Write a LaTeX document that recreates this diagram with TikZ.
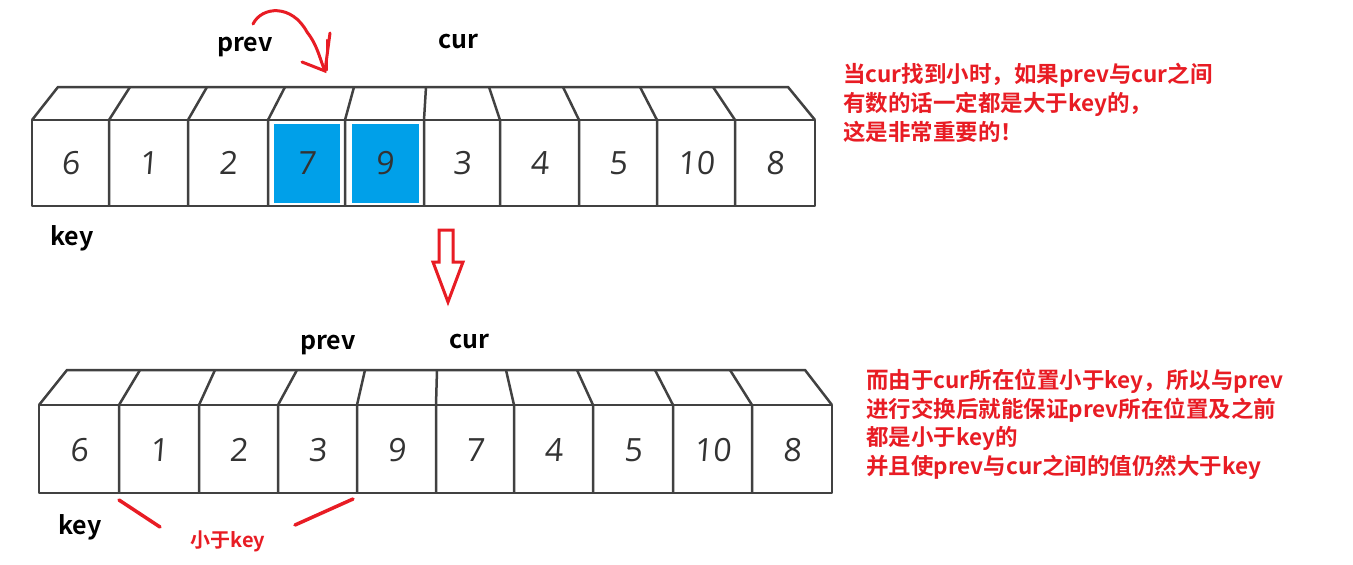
\documentclass[tikz,border=0pt]{standalone}
\usepackage{fontspec}
\newfontfamily\cjk{Noto Sans CJK SC}
\newfontfamily\cjkb{Noto Sans CJK SC Bold}
\newfontfamily\digf{Open Sans}[FakeSlant=0.08]
\definecolor{ared}{RGB}{232,28,36}
\definecolor{ablue}{RGB}{0,160,233}
\definecolor{edge}{RGB}{65,65,65}
\begin{document}
\begin{tikzpicture}[x=1pt,y=-1pt,
  box/.style={draw=edge,line width=2.5pt,line join=round},
  digit/.style={font=\digf\fontsize{32}{32}\selectfont,text=black!80,inner sep=0pt},
  lbl/.style={font=\cjkb\fontsize{25}{25}\selectfont,inner sep=0pt},
  note/.style={font=\cjkb\fontsize{22.5}{22.5}\selectfont,text=ared,anchor=west,inner sep=0pt},
  redline/.style={draw=ared,line width=3.5pt,line cap=round}]
\useasboundingbox (0,0) rectangle (1353,565);
\fill[white] (0,0) rectangle (1353,565);

% ---------- top array ----------
\fill[ablue] (274,124) rectangle (340,203);
\fill[ablue] (352,124) rectangle (419,203);
\draw[box] (32,120) rectangle (815,206);
\draw[box] (32,120) -- (58,87) -- (788,87) -- (815,120);
\foreach \f/\b in {109/130,188/207,268/285,345/354,424/426,500/489,579/563,657/640,735/713}
  \draw[box] (\f,206) -- (\f,120) -- (\b,87);
\foreach \x/\v [count=\i] in {70.5/6,148.5/1,228/2,306.5/7,384.5/9,462/3,539.5/4,618/5,696/10,775/8}
  \node[digit] (t\i) at (\x,163) {\v};

\node[lbl] (tprev) at (245,47) {prev};
\node[lbl] (tcur) at (458,41) {cur};
\node[lbl] (tkey) at (72,238) {key};

% red scribble arrow
\coordinate (ca) at (253,24);
\coordinate (cb) at (307,32);
\coordinate (cc) at (325,71);
\draw[redline,line width=3pt] (ca) .. controls (262,6) and (292,4) .. (cb) .. controls (318,46) and (320,60) .. (cc);
\draw[redline,line width=3pt] (302,62) -- (cc) -- (330,33);
\draw[redline,line width=2.5pt] (327,70) -- (327,40);

% hollow down arrow
\draw[draw=ared,line width=3pt,line join=miter]
  (439,230) -- (453,230) -- (453,262) -- (463,262) -- (448,302) -- (433,262) -- (439,262) -- cycle;

% top note
\node[note] (n1) at (843,75) {当cur找到小时，如果prev与cur之间};
\node[note] (n2) at (843,104) {有数的话一定都是大于key的，};
\node[note] (n3) at (843,132) {这是非常重要的！};

% ---------- bottom array ----------
\draw[box] (39,405) rectangle (832,493);
\draw[box] (39,405) -- (67,370) -- (805,370) -- (832,405);
\foreach \f/\b in {119/140,199/215,278/297,357/365,436/437,514/506,593/577,673/655,752/730}
  \draw[box] (\f,493) -- (\f,405) -- (\b,370);
\foreach \x/\v [count=\i] in {79/6,159/1,238.5/2,317.5/3,396.5/9,475/7,553.5/4,633/5,712.5/10,792/8}
  \node[digit] (b\i) at (\x,450) {\v};

\node[lbl] (bprev) at (328,345) {prev};
\node[lbl] (bcur) at (469,341) {cur};
\node[lbl] (bkey) at (80,527) {key};

\node[font=\cjkb\fontsize{20}{20}\selectfont,text=ared,inner sep=0pt] (lt) at (228,541) {小于key};
\coordinate (l1a) at (119,500);
\coordinate (l1b) at (160,527);
\coordinate (l2a) at (295,525);
\coordinate (l2b) at (353,499);
\draw[redline] (l1a) -- (l1b);
\draw[redline] (l2a) -- (l2b);

% bottom note
\node[note] (m1) at (866,381) {而由于cur所在位置小于key，所以与prev};
\node[note] (m2) at (866,410) {进行交换后就能保证prev所在位置及之前};
\node[note] (m3) at (866,438) {都是小于key的};
\node[note] (m4) at (866,467) {并且使prev与cur之间的值仍然大于key};
\end{tikzpicture}
\end{document}
